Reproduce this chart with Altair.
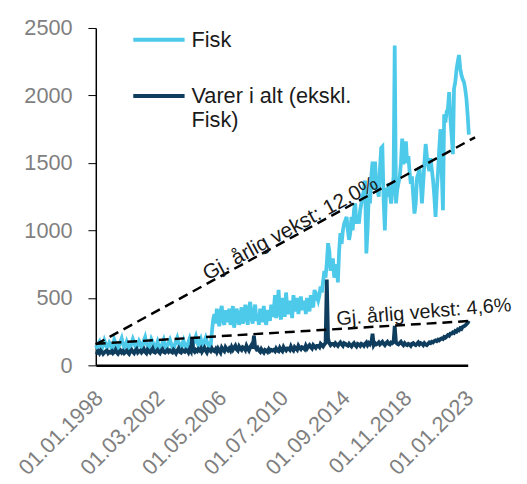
import altair as alt
import pandas as pd

# Monthly values, Jan 1998 - Mar 2023
fisk = [
    150,135,160,175,140,125,150,185,160,130,145,170,   # 1998
    155,120,140,190,165,135,115,150,175,200,160,130,   # 1999
    145,175,150,120,135,165,195,170,140,125,155,180,   # 2000
    160,130,150,185,210,170,140,120,160,195,175,145,   # 2001
    130,150,175,140,115,135,165,190,155,125,145,170,   # 2002
    190,160,135,120,150,180,205,170,140,130,160,185,   # 2003
    150,125,145,175,200,165,140,160,190,215,175,150,   # 2004
    170,195,160,140,180,205,175,150,135,140,250,340,   # 2005
    380,310,420,350,290,400,440,330,300,410,360,320,   # 2006
    420,300,350,440,280,330,420,380,300,360,430,310,   # 2007
    340,450,380,300,420,470,350,310,400,450,330,380,   # 2008
    300,420,370,320,440,350,300,410,380,330,450,360,   # 2009
    400,520,350,430,560,380,340,500,450,360,540,420,   # 2010
    380,480,430,350,520,460,400,500,380,440,510,420,   # 2011
    420,480,380,500,450,400,520,460,430,560,480,510,   # 2012
    480,520,585,540,620,700,650,760,905,850,700,780,   # 2013
    780,650,700,750,615,850,980,900,1000,1050,1075,1100,  # 2014
    1000,930,980,1100,1000,1150,1200,1050,1100,1050,1150,1200,  # 2015
    1250,1300,1370,830,1000,1270,1200,1400,1510,1300,1510,1350,  # 2016
    1300,1250,1450,1610,1620,1220,1000,1315,1250,1350,1280,1200,  # 2017
    1280,1400,2370,1200,1300,1350,1390,1500,1680,1490,1600,1660,  # 2018
    1500,1550,1440,1345,1400,1250,1125,1200,1390,1420,1460,1350,  # 2019
    1200,1350,1500,1640,1550,1480,1440,1535,1450,1370,1250,1100,  # 2020
    1300,1440,1600,1750,1450,1150,1860,1800,1880,1900,2025,1830,  # 2021
    1700,1565,2050,2100,2190,2250,2300,2200,2150,2120,2100,2050,  # 2022
    1975,1850,1710,                                               # 2023
]
varer = [
    100,95,105,90,110,100,85,95,105,110,90,100,        # 1998
    95,105,90,100,115,95,85,100,110,95,105,90,         # 1999
    100,110,95,85,105,115,100,90,110,120,95,105,       # 2000
    110,95,105,120,100,90,115,105,95,110,125,100,      # 2001
    95,105,115,100,90,110,120,100,95,105,115,100,      # 2002
    110,100,95,115,105,90,110,125,100,95,115,105,      # 2003
    100,115,110,95,120,105,200,110,100,115,105,120,    # 2004
    110,125,100,115,130,110,95,120,115,105,125,110,    # 2005
    105,120,100,125,110,95,130,115,105,135,120,110,    # 2006
    125,110,135,115,130,145,120,110,140,125,115,135,   # 2007
    130,115,145,125,110,135,150,125,220,135,120,130,   # 2008
    110,100,120,105,95,115,110,100,120,105,115,110,    # 2009
    115,105,125,110,105,130,115,105,135,120,110,125,   # 2010
    125,115,140,120,110,135,125,115,145,130,120,135,   # 2011
    130,120,145,125,140,150,135,125,150,140,130,145,   # 2012
    145,135,160,150,140,155,165,636,200,165,150,160,   # 2013
    160,150,165,155,145,160,170,155,145,165,160,150,   # 2014
    145,160,150,140,155,165,150,140,160,155,145,160,   # 2015
    155,145,160,170,150,165,155,170,234,150,165,155,   # 2016
    160,170,155,165,175,160,150,165,175,160,155,170,   # 2017
    165,175,292,170,160,155,165,175,160,150,165,155,   # 2018
    150,160,155,145,160,165,155,150,160,170,155,165,   # 2019
    160,150,165,155,150,160,170,165,175,170,180,185,   # 2020
    180,190,185,195,200,195,210,205,215,225,220,235,   # 2021
    235,245,240,255,250,265,260,275,270,285,290,295,   # 2022
    305,315,330,                                       # 2023
]
series_names = ["Fisk", "Varer i alt (ekskl. Fisk)"]
series_colors = ["#4DC9EA", "#0F3D5E"]

trend_dates = ["1998-01-01", "2023-08-01"]
trend_fisk = [155, 1690]
trend_dates_v = ["1998-01-01", "2023-04-01"]
trend_varer = [160, 329]

ann_labels = ["Gj. årlig vekst: 12,0%", "Gj. årlig vekst: 4,6%"]
ann_dates = ["2011-05-01", "2020-03-01"]
ann_values = [972, 350]

tick_dates = [(1998, 1), (2002, 3), (2006, 5), (2010, 7), (2014, 9), (2018, 11), (2023, 1)]

FONT = "Liberation Sans"

dates = pd.date_range("1998-01-01", periods=len(fisk), freq="MS").strftime("%Y-%m-%d")
df = pd.concat([
    pd.DataFrame({"date": dates, "value": fisk, "series": series_names[0]}),
    pd.DataFrame({"date": dates[:len(varer)], "value": varer, "series": series_names[1]}),
])
trend = pd.concat([
    pd.DataFrame({"date": trend_dates, "value": trend_fisk, "t": "f"}),
    pd.DataFrame({"date": trend_dates_v, "value": trend_varer, "t": "v"}),
])
ann = pd.DataFrame({"date": ann_dates, "value": ann_values, "label": ann_labels})

xscale = alt.Scale(type="utc", domain=[alt.DateTime(year=1998, month=1, date=1, utc=True),
                                       alt.DateTime(year=2023, month=2, date=1, utc=True)])
yscale = alt.Scale(domain=[0, 2500], nice=False)

xaxis = alt.Axis(
    values=[alt.DateTime(year=y, month=m, date=1, utc=True) for y, m in tick_dates],
    format="%d.%m.%Y", labelAngle=-45, ticks=False, grid=False,
    domainColor="#000000", domainWidth=2.5, labelColor="#7F7F7F",
    labelFont=FONT, labelFontSize=22, labelPadding=22, labelOffset=-4, title=None,
    labelOverlap=False, labelFlush=False,
)
yaxis = alt.Axis(
    values=[0, 500, 1000, 1500, 2000, 2500], format="d", grid=False, tickSize=8,
    tickColor="#000000", domainColor="#000000", domainWidth=1.5,
    labelColor="#7F7F7F", labelFont=FONT, labelFontSize=22, labelPadding=16,
    title=None,
)

lines = alt.Chart(df).mark_line(strokeWidth=3.8).encode(
    x=alt.X("date:T", scale=xscale, axis=xaxis),
    y=alt.Y("value:Q", scale=yscale, axis=yaxis),
    color=alt.Color(
        "series:N",
        scale=alt.Scale(domain=series_names, range=series_colors),
        sort=series_names,
        legend=alt.Legend(
            orient="none", legendX=36, legendY=-16, title=None,
            symbolType="stroke", symbolSize=2704, symbolStrokeWidth=4,
            labelFont=FONT, labelFontSize=22, labelColor="#1A1A1A",
            labelOffset=5, rowPadding=18, padding=0, labelLimit=400,
            labelExpr="datum.label == 'Fisk' ? 'Fisk' : ['Varer i alt (ekskl.', 'Fisk)']",
        ),
    ),
    order=alt.Order("date:T"),
)

trends = alt.Chart(trend).mark_line(color="#000000", strokeWidth=2.5, strokeDash=[10, 6]).encode(
    x="date:T", y="value:Q", detail="t:N",
)

ann1 = alt.Chart(ann.iloc[[0]]).mark_text(
    angle=331.5, align="center", baseline="alphabetic", font=FONT, fontSize=21, color="#1A1A1A",
).encode(x="date:T", y="value:Q", text="label:N")
ann2 = alt.Chart(ann.iloc[[1]]).mark_text(
    angle=355.3, align="center", baseline="alphabetic", font=FONT, fontSize=20, color="#1A1A1A",
).encode(x="date:T", y="value:Q", text="label:N")

chart = alt.layer(lines, trends, ann1, ann2).properties(
    width=377, height=342,
    autosize=alt.AutoSizeParams(type="none"),
    padding={"left": 89, "top": 17, "right": 52, "bottom": 117},
).configure_view(stroke=None)

chart.save("out.html", embed_options={"renderer": "svg", "actions": False})
